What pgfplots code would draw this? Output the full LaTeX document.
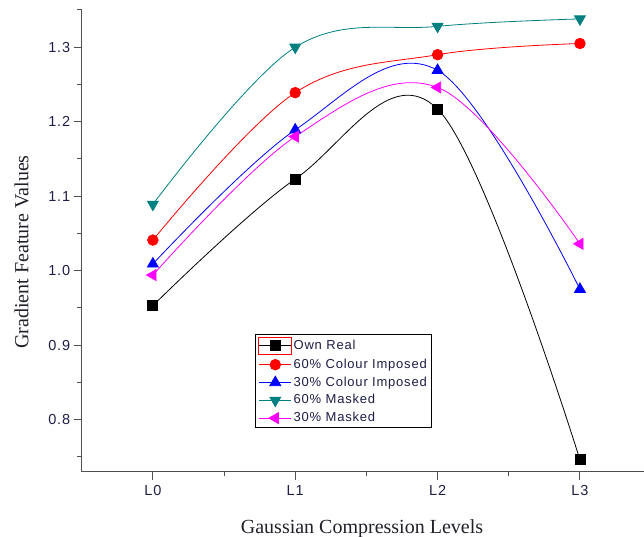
\documentclass[border=0pt]{standalone}
\usepackage{fontspec}
\setmainfont{Liberation Serif}
\newfontfamily\arialf[LetterSpace=6]{Liberation Sans}
\usepackage{pgfplots}
\pgfplotsset{compat=1.18}
\definecolor{tealc}{RGB}{0,128,128}
\definecolor{magc}{RGB}{255,0,255}
\definecolor{tickc}{RGB}{30,30,70}
\definecolor{spine}{RGB}{80,80,80}
\definecolor{labc}{RGB}{35,30,40}
\begin{document}
\begin{tikzpicture}
\useasboundingbox (-81.7pt,-65.3pt) rectangle (562.3pt,471.7pt);
\begin{axis}[
  scale only axis, width=562.3pt, height=461.7pt,
  at={(0pt,0pt)}, anchor=south west,
  xmin=-0.5, xmax=3.45, ymin=0.73, ymax=1.35,
  axis x line=bottom, axis y line=left,
  axis line style={spine, line width=1.4pt, -},
  xtick={0,1,2,3}, xticklabels={L0,L1,L2,L3},
  minor xtick={0.5,1.5,2.5},
  ytick={0.8,0.9,1.0,1.1,1.2,1.3},
  minor ytick={0.75,0.85,0.95,1.05,1.15,1.25,1.35},
  tick align=outside,
  major tick length=8pt, minor tick length=4.5pt,
  every tick/.style={spine, line width=1pt},
  yticklabel style={/pgf/number format/.cd, fixed, fixed zerofill, precision=1, assume math mode=true},
  tick label style={font=\arialf\fontsize{14.5}{14.5}\selectfont, text=tickc},
  xticklabel style={yshift=-2pt},
  xlabel={Gaussian Compression Levels},
  ylabel={Gradient Feature Values},
  label style={font=\fontsize{20}{20}\selectfont, text=labc},
  xlabel style={at={(axis description cs:0.4985,-0.124)}, anchor=center},
  ylabel style={at={(axis description cs:-0.1067,0.476)}, anchor=center, rotate=0},
  legend style={at={(axis description cs:0.308,0.298)}, anchor=north west,
    draw=black, line width=1pt, font=\arialf\fontsize{13}{13}\selectfont, text=tickc,
    row sep=2.8pt, inner xsep=3pt, inner ysep=2pt,
    nodes={inner sep=1.5pt, text height=9.5pt, text depth=2.5pt}},
  legend cell align=left,
  legend image code/.code={\draw[mark repeat=2,mark phase=2] plot coordinates {(0pt,0pt)(16pt,0pt)(32pt,0pt)};},
  every axis plot/.append style={smooth, tension=0.6, line width=0.8pt},
]
\addplot[black, mark=square*, mark size=5pt,
  legend image code/.code={\draw[red, line width=0.8pt] (-0.5pt,-8.5pt) rectangle (32.5pt,8.5pt);
    \draw[mark repeat=2,mark phase=2] plot coordinates {(0pt,0pt)(16pt,0pt)(32pt,0pt)};}]
  coordinates {(0,0.953) (1,1.123) (2,1.217) (3,0.746)};
\addplot[red, mark=*, mark size=5.3pt]
  coordinates {(0,1.041) (1,1.239) (2,1.290) (3,1.305)};
\addplot[blue, mark=triangle*, mark size=6.3pt]
  coordinates {(0,1.009) (1,1.189) (2,1.269) (3,0.975)};
\addplot[tealc, mark=triangle*, mark size=6.3pt, mark options={rotate=180}]
  coordinates {(0,1.089) (1,1.300) (2,1.328) (3,1.338)};
\addplot[magc, mark=triangle*, mark size=6.3pt, mark options={rotate=90}]
  coordinates {(0,0.994) (1,1.180) (2,1.246) (3,1.036)};
\legend{Own Real, 60\% Colour Imposed, 30\% Colour Imposed, 60\% Masked, 30\% Masked}
\end{axis}
\end{tikzpicture}
\end{document}
